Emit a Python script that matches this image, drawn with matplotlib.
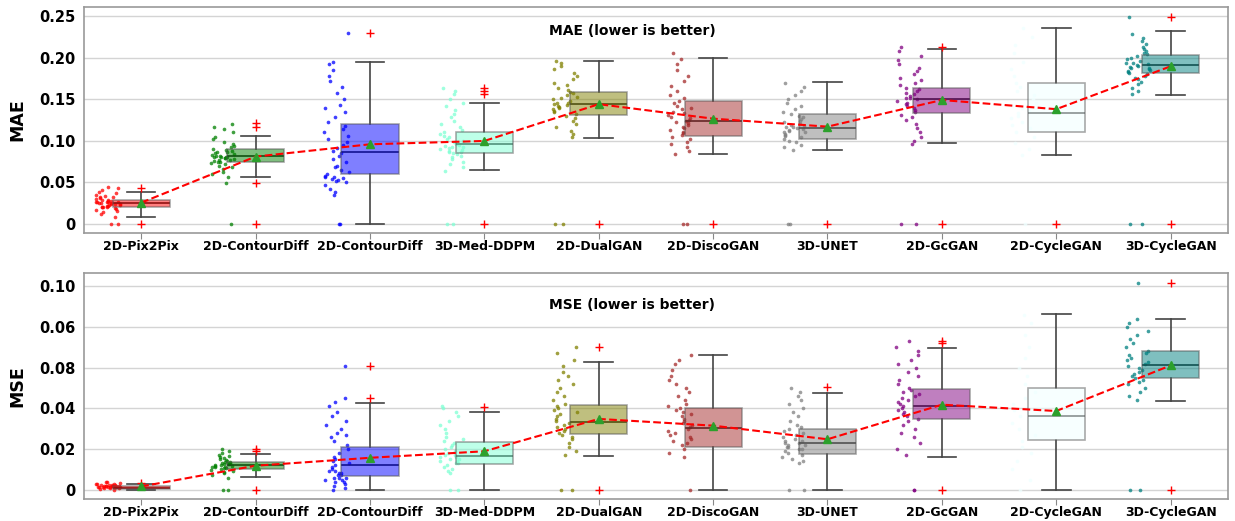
# Box plots with strip points for MAE and MSE of ten image translation models.
import numpy as np
import matplotlib.pyplot as plt

plt.rcParams['font.family'] = ['DejaVu Sans']
plt.rcParams['font.weight'] = 'bold'

models = ["2D-Pix2Pix", "2D-ContourDiff", "2D-ContourDiff", "3D-Med-DDPM", "2D-DualGAN",
          "2D-DiscoGAN", "3D-UNET", "2D-GcGAN", "2D-CycleGAN", "3D-CycleGAN"]
colors = ["red", "green", "blue", "aquamarine", "olive",
          "brown", "gray", "purple", "azure", "teal"]

# MAE box statistics
mae_q1 = [0.020, 0.075, 0.060, 0.085, 0.131, 0.106, 0.102, 0.133, 0.111, 0.181]
mae_med = [0.025, 0.082, 0.087, 0.096, 0.144, 0.124, 0.115, 0.150, 0.133, 0.191]
mae_q3 = [0.029, 0.090, 0.120, 0.111, 0.159, 0.148, 0.132, 0.164, 0.169, 0.203]
mae_lo = [0.009, 0.056, 0.0, 0.065, 0.103, 0.084, 0.089, 0.097, 0.083, 0.155]
mae_hi = [0.0385, 0.106, 0.195, 0.146, 0.196, 0.200, 0.171, 0.210, 0.235, 0.232]
mae_mean = [0.0256, 0.081, 0.0958, 0.0998, 0.144, 0.1266, 0.117, 0.149, 0.138, 0.1895]
mae_fliers = [[0.0437, 0], [0.121, 0.116, 0.049, 0], [0.230], [0.163, 0.160, 0.156, 0],
              [0], [0], [0], [0.213, 0], [0], [0.249, 0]]

# MSE box statistics
mse_q1 = [0.0002, 0.0103, 0.0067, 0.0128, 0.0274, 0.021, 0.0174, 0.0346, 0.0246, 0.0549]
mse_med = [0.0010, 0.0121, 0.0121, 0.0166, 0.0333, 0.0302, 0.0231, 0.0412, 0.0364, 0.0611]
mse_q3 = [0.0018, 0.0135, 0.0211, 0.0236, 0.0416, 0.040, 0.030, 0.0493, 0.0501, 0.0683]
mse_lo = [0.0, 0.0062, 0.0, 0.0, 0.0164, 0.0, 0.0, 0.0161, 0.0, 0.0437]
mse_hi = [0.0030, 0.0176, 0.0428, 0.0384, 0.0628, 0.0664, 0.0475, 0.0697, 0.0862, 0.0841]
mse_mean = [0.0016, 0.0118, 0.0157, 0.0189, 0.0348, 0.0315, 0.0248, 0.0418, 0.0387, 0.0611]
mse_fliers = [[0.0035], [0.0202, 0.0190, 0], [0.0607, 0.0449], [0.0408], [0.0702, 0],
              [], [0.0505], [0.0733, 0.0723, 0], [], [0.1018, 0]]

# strip points (approximate individual scores)
mae_points = [
    [0, 0, 0.009, 0.012, 0.014, 0.016, 0.017, 0.018, 0.019, 0.020, 0.020, 0.021, 0.021, 0.022, 0.022,
     0.023, 0.023, 0.024, 0.024, 0.024, 0.025, 0.025, 0.025, 0.026, 0.026, 0.026, 0.027, 0.027, 0.028,
     0.028, 0.029, 0.029, 0.030, 0.031, 0.032, 0.033, 0.034, 0.035, 0.037, 0.039, 0.041, 0.043, 0.044],
    [0, 0.049, 0.056, 0.060, 0.063, 0.066, 0.068, 0.070, 0.072, 0.073, 0.074, 0.075, 0.076, 0.077,
     0.077, 0.078, 0.079, 0.079, 0.080, 0.080, 0.081, 0.081, 0.082, 0.082, 0.083, 0.084, 0.085, 0.086,
     0.087, 0.088, 0.089, 0.090, 0.092, 0.094, 0.096, 0.099, 0.102, 0.105, 0.110, 0.114, 0.116, 0.120],
    [0, 0, 0.035, 0.038, 0.042, 0.047, 0.050, 0.052, 0.053, 0.054, 0.055, 0.056, 0.057, 0.058, 0.060,
     0.062, 0.065, 0.068, 0.070, 0.074, 0.078, 0.082, 0.085, 0.088, 0.091, 0.095, 0.098, 0.102, 0.106,
     0.110, 0.114, 0.118, 0.122, 0.128, 0.135, 0.140, 0.143, 0.150, 0.158, 0.165, 0.172, 0.178, 0.185,
     0.192, 0.195, 0.230],
    [0, 0, 0.064, 0.068, 0.072, 0.075, 0.078, 0.080, 0.082, 0.084, 0.085, 0.086, 0.087, 0.088, 0.089,
     0.090, 0.091, 0.092, 0.093, 0.094, 0.095, 0.096, 0.097, 0.098, 0.100, 0.102, 0.104, 0.106, 0.108,
     0.110, 0.113, 0.116, 0.120, 0.124, 0.128, 0.132, 0.137, 0.142, 0.146, 0.150, 0.156, 0.160, 0.163],
    [0, 0, 0.104, 0.108, 0.112, 0.116, 0.120, 0.124, 0.127, 0.130, 0.132, 0.134, 0.136, 0.138, 0.140,
     0.141, 0.142, 0.143, 0.144, 0.145, 0.146, 0.148, 0.150, 0.151, 0.153, 0.155, 0.157, 0.159, 0.161,
     0.164, 0.167, 0.170, 0.174, 0.178, 0.182, 0.186, 0.190, 0.193, 0.196],
    [0, 0, 0.084, 0.088, 0.092, 0.096, 0.099, 0.102, 0.105, 0.107, 0.109, 0.111, 0.113, 0.115, 0.117,
     0.119, 0.121, 0.123, 0.124, 0.125, 0.127, 0.129, 0.131, 0.133, 0.135, 0.138, 0.140, 0.142, 0.145,
     0.148, 0.151, 0.155, 0.160, 0.166, 0.172, 0.178, 0.185, 0.192, 0.198, 0.205],
    [0, 0, 0.089, 0.092, 0.095, 0.098, 0.100, 0.102, 0.104, 0.106, 0.107, 0.108, 0.110, 0.111, 0.112,
     0.113, 0.114, 0.115, 0.116, 0.117, 0.118, 0.119, 0.120, 0.122, 0.124, 0.126, 0.128, 0.130, 0.132,
     0.135, 0.138, 0.142, 0.146, 0.150, 0.155, 0.160, 0.165, 0.170],
    [0, 0, 0.096, 0.100, 0.105, 0.110, 0.115, 0.120, 0.125, 0.128, 0.131, 0.134, 0.137, 0.140, 0.142,
     0.144, 0.146, 0.148, 0.150, 0.151, 0.152, 0.154, 0.156, 0.158, 0.160, 0.162, 0.164, 0.167, 0.170,
     0.173, 0.176, 0.180, 0.184, 0.188, 0.192, 0.197, 0.202, 0.208, 0.213],
    [0, 0.083, 0.090, 0.097, 0.104, 0.110, 0.115, 0.119, 0.123, 0.127, 0.130, 0.133, 0.136, 0.139,
     0.142, 0.146, 0.150, 0.155, 0.160, 0.165, 0.170, 0.178, 0.186, 0.195, 0.205, 0.215, 0.225, 0.235],
    [0, 0, 0.156, 0.160, 0.164, 0.168, 0.171, 0.174, 0.176, 0.178, 0.180, 0.182, 0.183, 0.184, 0.185,
     0.186, 0.187, 0.188, 0.189, 0.190, 0.191, 0.192, 0.193, 0.194, 0.196, 0.198, 0.200, 0.202, 0.204,
     0.206, 0.208, 0.210, 0.213, 0.216, 0.220, 0.224, 0.228, 0.249],
]

mse_points = [
    [0, 0.0005, 0.0007, 0.0009, 0.0010, 0.0011, 0.0012, 0.0012, 0.0013, 0.0013, 0.0014, 0.0014, 0.0015,
     0.0015, 0.0016, 0.0016, 0.0017, 0.0017, 0.0018, 0.0018, 0.0019, 0.0020, 0.0021, 0.0022, 0.0023,
     0.0024, 0.0026, 0.0028, 0.0030, 0.0033, 0.0036, 0.0040],
    [0, 0, 0.0060, 0.0070, 0.0080, 0.0088, 0.0094, 0.0098, 0.0102, 0.0105, 0.0108, 0.0110, 0.0112,
     0.0114, 0.0116, 0.0118, 0.0120, 0.0122, 0.0124, 0.0126, 0.0128, 0.0130, 0.0132, 0.0135, 0.0138,
     0.0142, 0.0146, 0.0150, 0.0155, 0.0160, 0.0166, 0.0172, 0.0180, 0.0190, 0.0200],
    [0, 0.001, 0.002, 0.003, 0.004, 0.004, 0.005, 0.005, 0.006, 0.006, 0.006, 0.007, 0.007, 0.008,
     0.008, 0.009, 0.009, 0.010, 0.011, 0.012, 0.013, 0.014, 0.015, 0.016, 0.018, 0.020, 0.022, 0.024,
     0.026, 0.027, 0.028, 0.030, 0.032, 0.034, 0.036, 0.038, 0.041, 0.043, 0.045, 0.0607],
    [0, 0, 0.008, 0.009, 0.010, 0.011, 0.012, 0.013, 0.013, 0.014, 0.014, 0.015, 0.015, 0.016, 0.016,
     0.017, 0.017, 0.018, 0.019, 0.020, 0.021, 0.022, 0.023, 0.024, 0.025, 0.026, 0.028, 0.030, 0.032,
     0.034, 0.036, 0.038, 0.040, 0.041],
    [0, 0, 0.017, 0.019, 0.021, 0.023, 0.025, 0.026, 0.027, 0.028, 0.029, 0.030, 0.031, 0.032, 0.033,
     0.034, 0.035, 0.036, 0.037, 0.038, 0.039, 0.040, 0.041, 0.042, 0.044, 0.046, 0.048, 0.050, 0.052,
     0.054, 0.056, 0.058, 0.061, 0.064, 0.067, 0.070],
    [0, 0.016, 0.018, 0.020, 0.022, 0.023, 0.024, 0.025, 0.026, 0.027, 0.028, 0.029, 0.030, 0.031,
     0.032, 0.033, 0.034, 0.035, 0.036, 0.037, 0.038, 0.039, 0.040, 0.041, 0.042, 0.044, 0.046, 0.048,
     0.050, 0.052, 0.054, 0.056, 0.059, 0.062, 0.064, 0.066],
    [0, 0, 0.013, 0.014, 0.015, 0.016, 0.017, 0.018, 0.019, 0.020, 0.020, 0.021, 0.021, 0.022, 0.022,
     0.023, 0.023, 0.024, 0.024, 0.025, 0.026, 0.027, 0.028, 0.029, 0.030, 0.031, 0.032, 0.034, 0.036,
     0.038, 0.040, 0.042, 0.044, 0.046, 0.048, 0.050],
    [0, 0, 0.017, 0.020, 0.023, 0.026, 0.028, 0.030, 0.032, 0.034, 0.035, 0.036, 0.037, 0.038, 0.039,
     0.040, 0.041, 0.042, 0.043, 0.044, 0.045, 0.046, 0.047, 0.048, 0.049, 0.050, 0.052, 0.054, 0.056,
     0.058, 0.060, 0.062, 0.064, 0.066, 0.068, 0.070, 0.073],
    [0, 0.005, 0.010, 0.014, 0.018, 0.021, 0.024, 0.027, 0.030, 0.033, 0.036, 0.039, 0.042, 0.045,
     0.048, 0.052, 0.056, 0.060, 0.065, 0.070, 0.076, 0.082, 0.086],
    [0, 0, 0.044, 0.046, 0.048, 0.050, 0.052, 0.053, 0.054, 0.055, 0.056, 0.057, 0.058, 0.059, 0.060,
     0.061, 0.062, 0.063, 0.064, 0.065, 0.066, 0.067, 0.068, 0.070, 0.072, 0.074, 0.076, 0.078, 0.080,
     0.082, 0.084, 0.1018],
]

mae_ticks = [0, 0.05, 0.10, 0.15, 0.20, 0.25]
mae_ticklabels = ["0", "0.05", "0.10", "0.15", "0.20", "0.25"]
mse_ticks = [0, 0.02, 0.04, 0.06, 0.08, 0.10]
mse_ticklabels = ["0", "0.02", "0.04", "0.08", "0.06", "0.10"]  # as printed in the figure

# horizontal jitter for the strip points only (positions, not data)
rng = np.random.default_rng(7)


def draw_panel(ax, q1, med, q3, lo, hi, mean, fliers, points, title, ylabel, ticks, ticklabels, ylim, title_y):
    pos = np.arange(len(models))
    stats = []
    for i in range(len(models)):
        stats.append(dict(q1=q1[i], med=med[i], q3=q3[i], whislo=lo[i], whishi=hi[i],
                          mean=mean[i], fliers=fliers[i]))

    # strip points to the left of each box
    for i, vals in enumerate(points):
        jit = rng.uniform(-0.11, 0.11, len(vals))
        ax.scatter(pos[i] - 0.29 + jit, vals, s=7, color=colors[i], alpha=0.75,
                   linewidths=0, zorder=2)

    bp = ax.bxp(stats, positions=pos, widths=0.5, capwidths=0.25, patch_artist=True,
                showmeans=True,
                boxprops=dict(edgecolor="#555555", linewidth=1.2),
                whiskerprops=dict(color="#444444", linewidth=1.2),
                capprops=dict(color="#444444", linewidth=1.2),
                medianprops=dict(color="#222222", linewidth=1.2),
                meanprops=dict(marker="^", markerfacecolor="#2ca02c", markeredgecolor="#2ca02c",
                               markersize=6),
                flierprops=dict(marker="+", markeredgecolor="red", markersize=6, markeredgewidth=1))
    for patch, c in zip(bp["boxes"], colors):
        patch.set_facecolor(c)
        patch.set_alpha(0.5)
        patch.set_edgecolor("#555555")
        patch.set_zorder(3)

    ax.plot(pos, mean, "--", color="red", linewidth=1.5, zorder=4)
    for m in bp["means"]:
        m.set_zorder(5)

    ax.set_xlim(-0.5, len(models) - 0.5)
    ax.set_ylim(*ylim)
    ax.set_xticks(pos)
    ax.set_xticklabels(models, fontsize=9, fontweight="bold")
    ax.set_yticks(ticks)
    ax.set_yticklabels(ticklabels, fontsize=10.5, fontweight="bold")
    ax.tick_params(axis="x", length=4, color="#888888", pad=1)
    ax.tick_params(axis="y", length=0, pad=6)
    ax.yaxis.grid(True, color="#d4d4d4", linewidth=1)
    ax.set_axisbelow(True)
    for sp in ax.spines.values():
        sp.set_color("#999999")
        sp.set_linewidth(1.2)
    ax.set_ylabel(ylabel, fontsize=12.5, fontweight="bold")
    ax.yaxis.set_label_coords(-0.0507, 0.5)
    ax.text(0.479, title_y, title, transform=ax.transAxes, ha="center", va="center",
            fontsize=10, fontweight="bold")


fig = plt.figure(figsize=(12.35, 5.21), dpi=100)
ax1 = fig.add_axes([0.068, 0.5528, 0.9262, 0.4338])
ax2 = fig.add_axes([0.068, 0.0417, 0.9262, 0.4349])

draw_panel(ax1, mae_q1, mae_med, mae_q3, mae_lo, mae_hi, mae_mean, mae_fliers, mae_points,
           "MAE (lower is better)", "MAE", mae_ticks, mae_ticklabels, (-0.0108, 0.2608), 0.894)
draw_panel(ax2, mse_q1, mse_med, mse_q3, mse_lo, mse_hi, mse_mean, mse_fliers, mse_points,
           "MSE (lower is better)", "MSE", mse_ticks, mse_ticklabels, (-0.0047, 0.1067), 0.857)

fig.savefig("out.png", dpi=100)
